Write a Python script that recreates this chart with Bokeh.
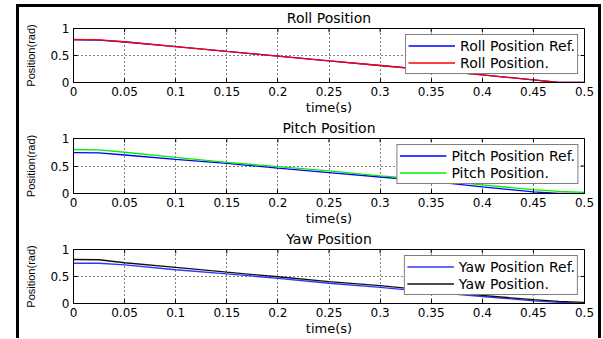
from bokeh.plotting import figure
from bokeh.layouts import column
from bokeh.models import Range1d, FixedTicker, Legend, LegendItem
from bokeh.embed import file_html
from bokeh.resources import INLINE

# ---- data ----
t = [0, 0.025, 0.05, 0.1, 0.15, 0.2, 0.25, 0.3, 0.35, 0.4, 0.45, 0.475, 0.5]
roll_ref = [0.79, 0.785, 0.75, 0.665, 0.575, 0.49, 0.40, 0.315, 0.23, 0.14, 0.05, 0.0, 0.0]
roll_pos = [0.80, 0.79, 0.755, 0.665, 0.575, 0.49, 0.40, 0.315, 0.23, 0.14, 0.05, 0.0, 0.0]
pitch_ref = [0.745, 0.74, 0.70, 0.62, 0.548, 0.46, 0.38, 0.30, 0.22, 0.12, 0.03, 0.0, 0.0]
pitch_pos = [0.80, 0.795, 0.75, 0.655, 0.566, 0.49, 0.41, 0.32, 0.25, 0.155, 0.07, 0.04, 0.02]
yaw_ref = [0.745, 0.745, 0.714, 0.625, 0.55, 0.465, 0.375, 0.30, 0.21, 0.13, 0.05, 0.02, 0.0]
yaw_pos = [0.815, 0.81, 0.755, 0.67, 0.58, 0.495, 0.405, 0.33, 0.24, 0.15, 0.07, 0.04, 0.02]

x_ticks = [0, 0.05, 0.1, 0.15, 0.2, 0.25, 0.3, 0.35, 0.4, 0.45, 0.5]
x_tick_labels = ["0", "0.05", "0.1", "0.15", "0.2", "0.25", "0.3", "0.35", "0.4", "0.45", "0.5"]
y_ticks = [0, 0.5, 1]
y_tick_labels = ["0", "0.5", "1"]
x_lim = (0, 0.5)
y_lim = (0, 1)

panels = [
    ("Roll Position", roll_ref, roll_pos, "Roll Position Ref.", "Roll Position.", "#0000ff", "#ff0000"),
    ("Pitch Position", pitch_ref, pitch_pos, "Pitch Position Ref.", "Pitch Position.", "#0000ff", "#00ee00"),
    ("Yaw Position", yaw_ref, yaw_pos, "Yaw Position Ref.", "Yaw Position.", "#3333ff", "#111111"),
]

FONT = "DejaVu Sans"
FIG_W = 579
BL, BR = 54, 14
heights = [110, 111, 110]
tops = [21, 21, 21]
bottoms = [33, 34, 33]
figs = []
for (title, ref, pos, lab_ref, lab_pos, c_ref, c_pos), h, bt, bb in zip(panels, heights, tops, bottoms):
    p = figure(width=FIG_W, height=h, output_backend="svg", toolbar_location=None,
               x_range=Range1d(*x_lim), y_range=Range1d(*y_lim),
               min_border_left=BL, min_border_right=BR, min_border_top=bt, min_border_bottom=bb,
               background_fill_color="white", border_fill_color="white")
    p.outline_line_color = "black"
    p.outline_line_width = 1
    p.title.text = title
    p.title.align = "center"
    p.title.vertical_align = "top"
    p.title.text_font = FONT
    p.title.text_font_size = "14px"
    p.title.text_font_style = "normal"
    p.title.text_color = "black"
    p.title.standoff = 1

    xa = p.xaxis[0]
    xa.ticker = FixedTicker(ticks=x_ticks)
    xa.major_label_overrides = dict(zip(x_ticks, x_tick_labels))
    xa.axis_label = "time(s)"
    ya = p.yaxis[0]
    ya.ticker = FixedTicker(ticks=y_ticks)
    ya.major_label_overrides = dict(zip(y_ticks, y_tick_labels))
    ya.axis_label = "Position(rad)"
    for ax in (xa, ya):
        ax.major_tick_in = 4
        ax.major_tick_out = 0
        ax.minor_tick_line_color = None
        ax.axis_line_color = "black"
        ax.major_tick_line_color = "black"
        ax.major_label_text_font = FONT
        ax.major_label_text_font_size = "12px"
        ax.major_label_text_color = "black"
        ax.major_label_standoff = 4
        ax.axis_label_text_font_style = "normal"
        ax.axis_label_text_color = "black"
    xa.axis_label_text_font = FONT
    xa.axis_label_text_font_size = "13px"
    xa.axis_label_standoff = 1
    ya.axis_label_text_font = "Liberation Sans"
    ya.axis_label_text_font_size = "11px"
    ya.axis_label_standoff = 10

    # inward ticks on the top and right edges (box on)
    frame_h = h - bt - bb
    frame_w = FIG_W - BL - BR
    dy = 4 * (y_lim[1] - y_lim[0]) / frame_h
    dx = 4 * (x_lim[1] - x_lim[0]) / frame_w
    p.segment(x0=x_ticks, y0=[y_lim[1]] * len(x_ticks), x1=x_ticks, y1=[y_lim[1] - dy] * len(x_ticks),
              line_color="black", line_width=1)
    p.segment(x0=[x_lim[1]] * len(y_ticks), y0=y_ticks, x1=[x_lim[1] - dx] * len(y_ticks), y1=y_ticks,
              line_color="black", line_width=1)

    for g in (p.xgrid[0], p.ygrid[0]):
        g.grid_line_color = "black"
        g.grid_line_dash = "1 3"
        g.grid_line_width = 1
    p.xgrid[0].ticker = FixedTicker(ticks=x_ticks)
    p.ygrid[0].ticker = FixedTicker(ticks=y_ticks)

    r1 = p.line(t, ref, line_color=c_ref, line_width=1.3)
    r2 = p.line(t, pos, line_color=c_pos, line_width=1.3)

    leg = Legend(items=[LegendItem(label=lab_ref, renderers=[r1]),
                        LegendItem(label=lab_pos, renderers=[r2])],
                 location="top_right")
    leg.margin = 6
    leg.padding = 2
    leg.spacing = 0
    leg.glyph_width = 47
    leg.glyph_height = 17
    leg.label_height = 17
    leg.label_standoff = 5
    leg.label_text_font = FONT
    leg.label_text_font_size = "14px"
    leg.label_text_color = "black"
    leg.border_line_color = "black"
    leg.border_line_width = 1
    leg.background_fill_color = "white"
    leg.background_fill_alpha = 1
    p.add_layout(leg, "center")
    figs.append(p)

layout = column(*figs, styles={
    "border-left": "3px solid black",
    "border-top": "3px solid black",
    "border-right": "3px solid black",
    "margin-left": "16px",
    "margin-top": "4px",
})

open("out.html", "w").write(file_html(layout, INLINE))
